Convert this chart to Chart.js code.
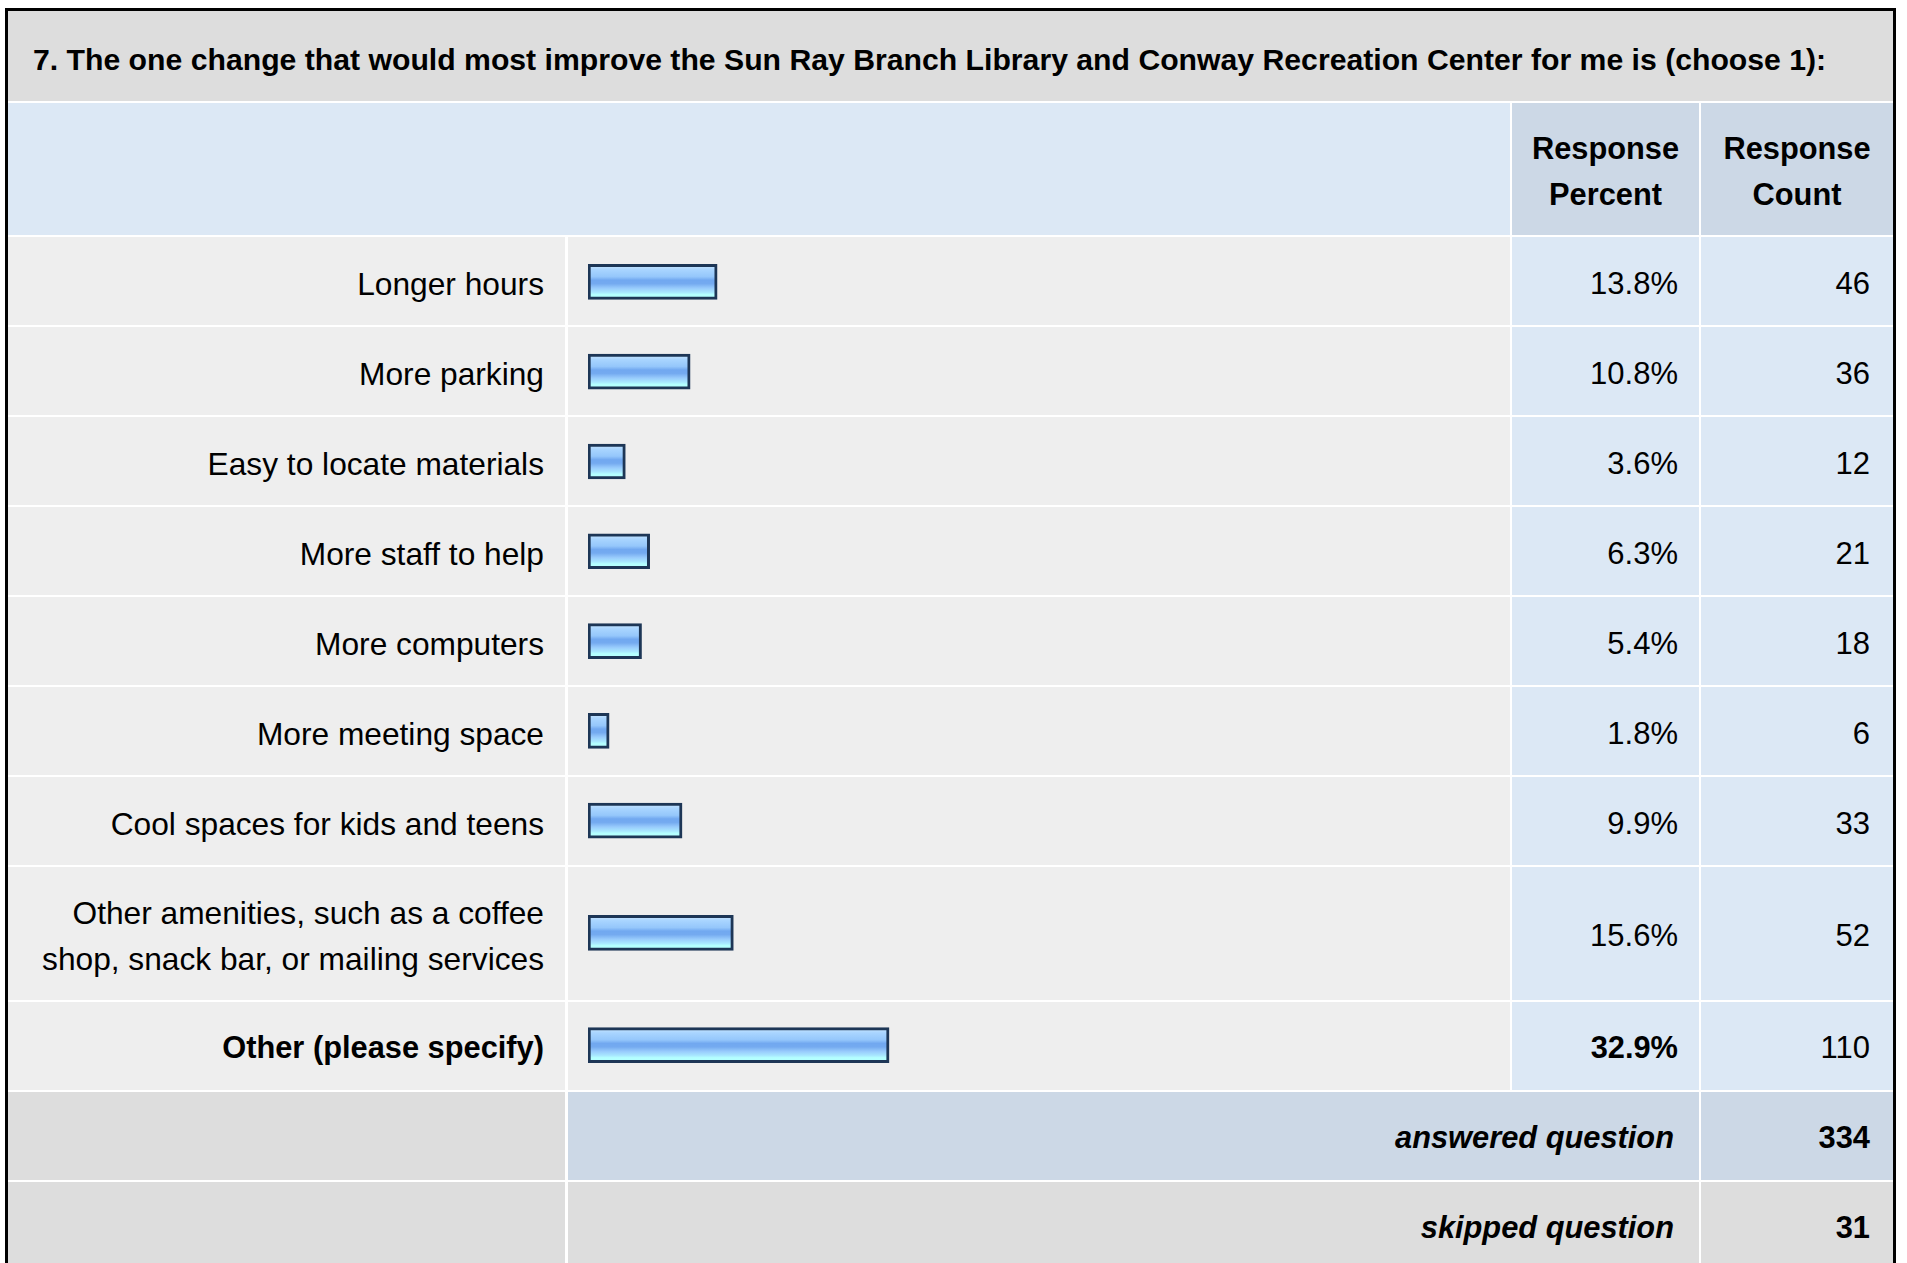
<!DOCTYPE html>
<html>
<head>
<meta charset="utf-8">
<script src="https://cdn.jsdelivr.net/npm/chart.js@4.4.1/dist/chart.umd.min.js"></script>
<style>
  html, body { margin: 0; padding: 0; background: #fff; overflow: hidden; }
  body { width: 1907px; height: 1263px; position: relative; font-family: "Liberation Sans", Arial, sans-serif; color: #000; }
  #frame { position: absolute; left: 5px; top: 8px; width: 1885px; height: 1300px; border: 3px solid #000; border-bottom: none; }
  .cell { position: absolute; box-sizing: border-box; display: flex; align-items: center; font-size: 31px; line-height: 46px; }
  .lbl { font-size: 31.7px; }
  .right { justify-content: flex-end; text-align: right; }
  .center { justify-content: center; text-align: center; }
  .b { font-weight: bold; font-size: 30.8px; }
  .bi { font-weight: bold; font-style: italic; font-size: 30.8px; }
  .ttl { font-weight: bold; font-size: 30.2px; }
  #chartBox { position: absolute; left: 560px; top: 226px; width: 942px; z-index: 5; }
</style>
</head>
<body>
<div id="frame"></div>
<script>
// survey data
const title = '7. The one change that would most improve the Sun Ray Branch Library and Conway Recreation Center for me is (choose 1):';
const categories = [
  'Longer hours',
  'More parking',
  'Easy to locate materials',
  'More staff to help',
  'More computers',
  'More meeting space',
  'Cool spaces for kids and teens',
  'Other amenities, such as a coffee shop, snack bar, or mailing services',
  'Other (please specify)'
];
const percents = [13.8, 10.8, 3.6, 6.3, 5.4, 1.8, 9.9, 15.6, 32.9];
const counts = [46, 36, 12, 21, 18, 6, 33, 52, 110];
const answered = 334;
const skipped = 31;

// layout: row heights in "row units" (the long label wraps to two lines)
const rowUnits = [1, 1, 1, 1, 1, 1, 1, 1.5, 1];
const UNIT = 90;
const GAP = 2;
const colX = { label: 0, bar: 560, pct: 1504, cnt: 1693 };
const colW = { label: 557, bar: 942, pct: 187, cnt: 192 };

const frame = document.getElementById('frame');
function cell(x, y, w, h, bg, html, cls, pad) {
  const d = document.createElement('div');
  d.className = 'cell ' + (cls || '');
  d.style.left = x + 'px'; d.style.top = y + 'px';
  d.style.width = w + 'px'; d.style.height = h + 'px';
  d.style.background = bg;
  if (pad) d.style.padding = pad;
  d.innerHTML = html || '';
  frame.appendChild(d);
  return d;
}

// title + header
cell(0, 0, 1885, 90, '#dddddd', title, 'ttl', '7px 0 0 25px');
cell(0, 92, 1502, 132, '#dce8f5', '');
cell(colX.pct, 92, colW.pct, 132, '#ccd8e6', 'Response<br>Percent', 'b center', '6px 0 0 0');
cell(colX.cnt, 92, colW.cnt, 132, '#ccd8e6', 'Response<br>Count', 'b center', '6px 0 0 0');

// data rows
const maxIdx = percents.indexOf(Math.max(...percents));
let y = 226;
categories.forEach((c, i) => {
  const h = Math.round(rowUnits[i] * UNIT) - GAP;
  const top = i === maxIdx ? '4px' : (rowUnits[i] > 1 ? '5px' : '6px');
  const bold = i === maxIdx ? ' b' : ' lbl';
  cell(colX.label, y, colW.label, h, '#eeeeee', c, 'right' + bold, top + ' 21px 0 10px');
  cell(colX.bar, y, colW.bar, h, '#eeeeee', '');
  cell(colX.pct, y, colW.pct, h, '#dce8f5', percents[i].toFixed(1) + '%', 'right' + (i === maxIdx ? ' b' : ''), top + ' 21px 0 0');
  cell(colX.cnt, y, colW.cnt, h, '#dce8f5', String(counts[i]), 'right', top + ' 23px 0 0');
  y += h + GAP;
});
const tableBottom = y - GAP;

// summary rows
cell(colX.label, y, colW.label, 88, '#dddddd', '');
cell(colX.bar, y, colX.cnt - colX.bar - GAP, 88, '#ccd8e6', 'answered question', 'right bi', '3px 25px 0 0');
cell(colX.cnt, y, colW.cnt, 88, '#ccd8e6', String(answered), 'right b', '3px 23px 0 0');
y += 90;
cell(colX.label, y, colW.label, 88, '#dddddd', '');
cell(colX.bar, y, colX.cnt - colX.bar - GAP, 88, '#dddddd', 'skipped question', 'right bi', '3px 25px 0 0');
cell(colX.cnt, y, colW.cnt, 88, '#dddddd', String(skipped), 'right b', '3px 23px 0 0');

// chart canvas over the bar column
const box = document.createElement('div');
box.id = 'chartBox';
box.style.height = (tableBottom - 226) + 'px';
const canvas = document.createElement('canvas');
canvas.width = 942;
canvas.height = tableBottom - 226;
box.appendChild(canvas);
frame.appendChild(box);

const centers = [];
let acc = 0;
rowUnits.forEach(u => { centers.push(acc + u / 2); acc += u; });

const BAR_H = 35;
const BAR_LEAD = -0.55; // bars start a few px before zero, like the boxed bars in the original
function barFill(ctx) {
  const chart = ctx.chart;
  const ys = chart.scales && chart.scales.y;
  if (!ys || ctx.type !== 'data' || !ctx.raw) return '#99ccff';
  const c = ys.getPixelForValue(ctx.raw.y);
  if (!isFinite(c)) return '#99ccff';
  const g = chart.ctx.createLinearGradient(0, c - BAR_H / 2, 0, c + BAR_H / 2);
  g.addColorStop(0, '#cfe9ff');
  g.addColorStop(0.15, '#a9d5ff');
  g.addColorStop(0.35, '#95c7fb');
  g.addColorStop(0.45, '#71a8f0');
  g.addColorStop(0.55, '#74aaf0');
  g.addColorStop(0.68, '#98cbfc');
  g.addColorStop(0.8, '#a9e8ff');
  g.addColorStop(0.86, '#b4ffff');
  g.addColorStop(1, '#b4ffff');
  return g;
}

Chart.defaults.font.family = '"Liberation Sans", Arial, sans-serif';

new Chart(canvas, {
  type: 'bar',
  data: {
    datasets: [{
      label: 'Response Percent',
      data: percents.map((p, i) => ({ x: p, y: centers[i] })),
      base: BAR_LEAD,
      backgroundColor: barFill,
      borderColor: '#1d3656',
      borderWidth: 3,
      borderSkipped: false,
      barThickness: BAR_H
    }]
  },
  options: {
    indexAxis: 'y',
    responsive: false,
    animation: false,
    events: [],
    devicePixelRatio: 1,
    layout: { padding: { left: 20, right: 17, top: 0, bottom: 0 } },
    scales: {
      x: { type: 'linear', min: BAR_LEAD, max: 100, display: false },
      y: { type: 'linear', min: 0, max: acc, reverse: true, offset: false, display: false }
    },
    plugins: {
      legend: { display: false },
      tooltip: { enabled: false }
    }
  }
});
</script>
</body>
</html>
